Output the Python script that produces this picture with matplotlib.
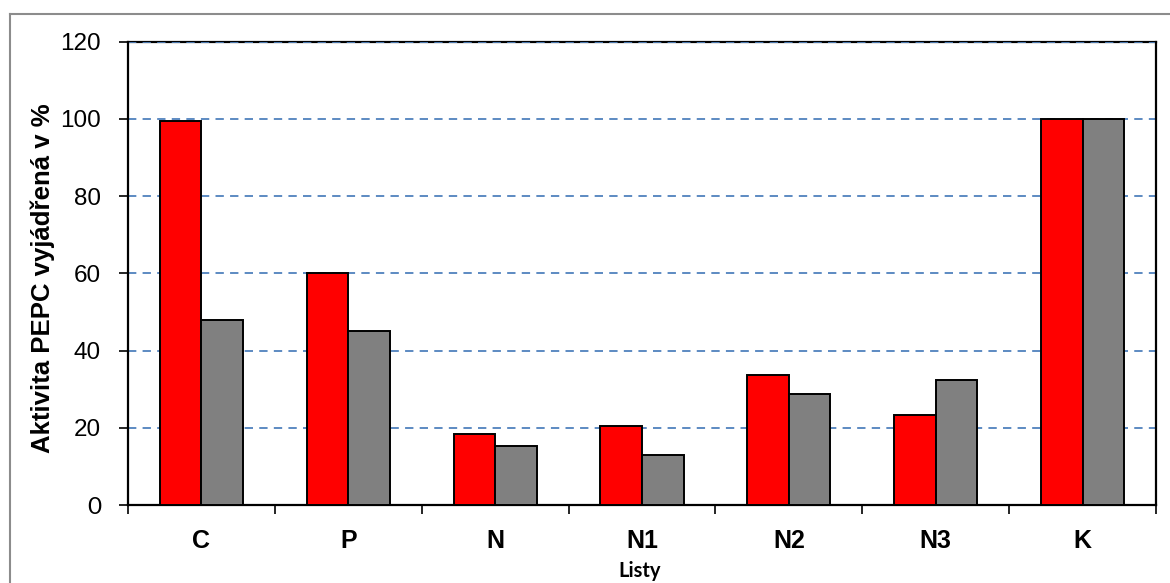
import matplotlib
matplotlib.use("Agg")
import matplotlib.pyplot as plt
import numpy as np

categories = ["C", "P", "N", "N1", "N2", "N3", "K"]
series_red = [99.5, 60.2, 18.5, 20.5, 33.7, 23.4, 100.0]
series_gray = [47.8, 45.1, 15.4, 12.9, 28.8, 32.5, 100.0]
y_ticks = [0, 20, 40, 60, 80, 100, 120]
y_label = "Aktivita PEPC vyjádřená v %"
x_label = "Listy"

plt.rcParams["font.family"] = ["Liberation Sans", "DejaVu Sans"]
plt.rcParams["lines.scale_dashes"] = False

W, H = 1170, 583
fig = plt.figure(figsize=(W / 100, H / 100), dpi=100)
ax = fig.add_axes([128 / W, (H - 505) / H, (1156 - 128) / W, (505 - 41.7) / H])

x = np.arange(len(categories))
bw = 0.283
ax.bar(x - bw / 2, series_red, width=bw, color="#FF0000", edgecolor="black",
       linewidth=1.4, zorder=3)
ax.bar(x + bw / 2, series_gray, width=bw, color="#808080", edgecolor="black",
       linewidth=1.4, zorder=3)

ax.set_xlim(-0.5, len(categories) - 0.5)
ax.set_ylim(0, 120)

# dashed horizontal grid
for v in y_ticks[1:]:
    ax.axhline(v, color="#4F81BD", linewidth=1.3, dashes=(6, 4.5), zorder=2)

for side in ["left", "right", "bottom", "top"]:
    ax.spines[side].set_linewidth(1.6)
    ax.spines[side].set_color("black")
ax.spines["top"].set_zorder(1)

ax.set_yticks(y_ticks)
ax.set_yticklabels([str(v) for v in y_ticks], fontsize=17.5)
ax.tick_params(axis="y", direction="out", length=6.5, width=1.2, pad=13)
ax.get_yticklabels()[0].set_fontfamily(["Lato", "DejaVu Sans"])

ax.set_xticks(x)
ax.set_xticklabels(categories, fontsize=18, fontweight="bold")
ax.set_xticks(np.arange(-0.5, len(categories)), minor=True)
ax.tick_params(axis="x", which="major", length=0, pad=17)
ax.tick_params(axis="x", which="minor", direction="out", length=6.5, width=1.2)

fig.text(43 / W, (H - 278) / H, y_label, rotation=90, fontsize=18.5,
         fontweight="bold", ha="center", va="center")
fig.text(640 / W, (H - 571) / H, x_label, fontsize=14.5, fontweight="bold",
         ha="center", va="center", family=["Lato", "DejaVu Sans"])

# outer chart frame
frame_color = "#8C8C8C"
fig.add_artist(plt.Line2D([9.5 / W, 9.5 / W], [0, (H - 14) / H],
                          transform=fig.transFigure, color=frame_color, linewidth=1.5))
fig.add_artist(plt.Line2D([9.5 / W, 1.0], [(H - 14) / H, (H - 14) / H],
                          transform=fig.transFigure, color=frame_color, linewidth=1.5))

fig.savefig("out.png", dpi=100)
